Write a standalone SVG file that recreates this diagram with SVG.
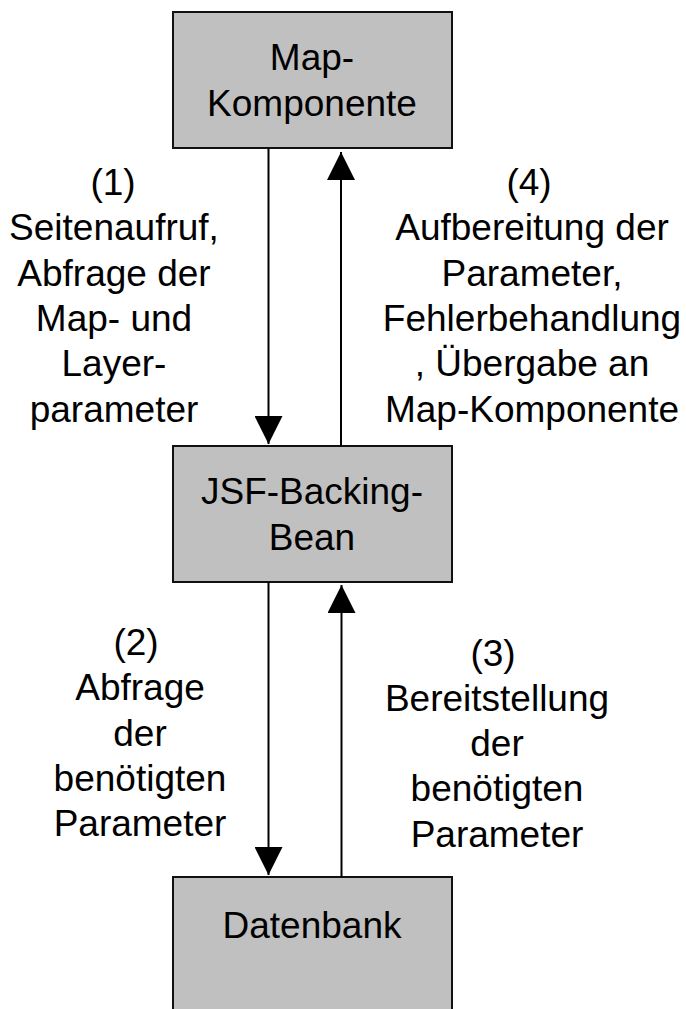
<svg xmlns="http://www.w3.org/2000/svg" width="686" height="1009" viewBox="0 0 686 1009">
<style>
  .box { fill: #c0c0c0; stroke: #111; stroke-width: 2; }
  .lbl { font-family: "Liberation Sans", Arial, sans-serif; font-size: 37px; fill: #000; text-anchor: middle; }
  .conn { stroke: #000; stroke-width: 2; fill: none; marker-end: url(#arrow); }
</style>
<defs>
  <marker id="arrow" markerUnits="userSpaceOnUse" markerWidth="28" markerHeight="28" refX="28" refY="14" orient="auto" viewBox="0 0 28 28">
    <path d="M0,0 L28,14 L0,28 Z" fill="#000"/>
  </marker>
</defs>
<rect width="686" height="1009" fill="#fff"/>

<g id="map-komponente">
  <rect class="box" x="173" y="12" width="279" height="136"/>
  <text class="lbl" x="312" y="70">Map-</text>
  <text class="lbl" x="312" y="116">Komponente</text>
</g>

<g id="jsf-backing-bean">
  <rect class="box" x="173" y="446" width="279" height="136"/>
  <text class="lbl" x="312" y="504">JSF-Backing-</text>
  <text class="lbl" x="312" y="550">Bean</text>
</g>

<g id="datenbank">
  <rect class="box" x="173" y="877" width="279" height="140"/>
  <text class="lbl" x="312" y="938">Datenbank</text>
</g>

<g id="connectors">
  <line class="conn" x1="268.5" y1="148" x2="268.5" y2="444"/>
  <line class="conn" x1="341" y1="446" x2="341" y2="152"/>
  <line class="conn" x1="268.5" y1="582" x2="268.5" y2="875"/>
  <line class="conn" x1="341.5" y1="877" x2="341.5" y2="585"/>
</g>

<g id="label-1">
  <text class="lbl" x="113" y="195">(1)</text>
  <text class="lbl" x="114" y="240.3">Seitenaufruf,</text>
  <text class="lbl" x="114" y="285.6">Abfrage der</text>
  <text class="lbl" x="114" y="330.9">Map- und</text>
  <text class="lbl" x="114" y="376.2">Layer-</text>
  <text class="lbl" x="114" y="421.5">parameter</text>
</g>

<g id="label-4">
  <text class="lbl" x="529" y="195">(4)</text>
  <text class="lbl" x="532" y="240.3">Aufbereitung der</text>
  <text class="lbl" x="532" y="285.6">Parameter,</text>
  <text class="lbl" x="532" y="330.9">Fehlerbehandlung</text>
  <text class="lbl" x="532" y="376.2">, Übergabe an</text>
  <text class="lbl" x="532" y="421.5">Map-Komponente</text>
</g>

<g id="label-2">
  <text class="lbl" x="136" y="655">(2)</text>
  <text class="lbl" x="140" y="700.3">Abfrage</text>
  <text class="lbl" x="140" y="745.6">der</text>
  <text class="lbl" x="140" y="790.9">benötigten</text>
  <text class="lbl" x="140" y="836.2">Parameter</text>
</g>

<g id="label-3">
  <text class="lbl" x="493" y="665.5">(3)</text>
  <text class="lbl" x="497" y="710.8">Bereitstellung</text>
  <text class="lbl" x="497" y="756.1">der</text>
  <text class="lbl" x="497" y="801.4">benötigten</text>
  <text class="lbl" x="497" y="846.7">Parameter</text>
</g>
</svg>
